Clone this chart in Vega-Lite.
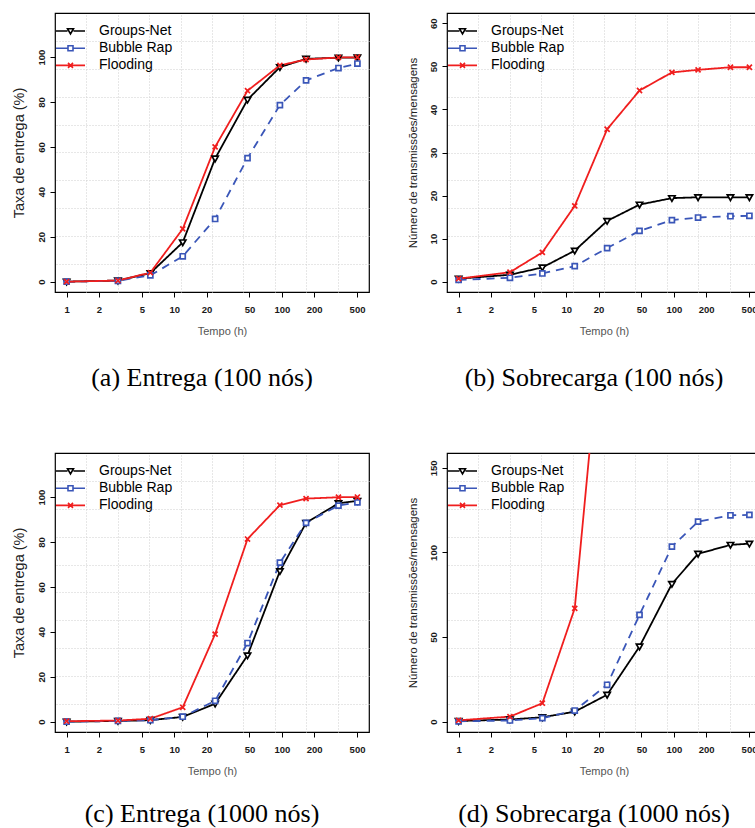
{
  "$schema": "https://vega.github.io/schema/vega-lite/v6.json",
  "padding": {"left": 10, "top": 12, "right": 0, "bottom": 0},
  "background": "white",
  "datasets": {
    "a": [
      {"t": 1, "s": "Groups-Net", "v": 0}, {"t": 3, "s": "Groups-Net", "v": 0.5}, {"t": 6, "s": "Groups-Net", "v": 3.8}, {"t": 12, "s": "Groups-Net", "v": 17.5}, {"t": 24, "s": "Groups-Net", "v": 54.8}, {"t": 48, "s": "Groups-Net", "v": 81}, {"t": 96, "s": "Groups-Net", "v": 95.5}, {"t": 168, "s": "Groups-Net", "v": 99.2}, {"t": 336, "s": "Groups-Net", "v": 99.7}, {"t": 504, "s": "Groups-Net", "v": 99.8},
      {"t": 1, "s": "Bubble Rap", "v": 0}, {"t": 3, "s": "Bubble Rap", "v": 0.4}, {"t": 6, "s": "Bubble Rap", "v": 2.8}, {"t": 12, "s": "Bubble Rap", "v": 11.3}, {"t": 24, "s": "Bubble Rap", "v": 27.9}, {"t": 48, "s": "Bubble Rap", "v": 55}, {"t": 96, "s": "Bubble Rap", "v": 78.6}, {"t": 168, "s": "Bubble Rap", "v": 89.6}, {"t": 336, "s": "Bubble Rap", "v": 95.1}, {"t": 504, "s": "Bubble Rap", "v": 97.1},
      {"t": 1, "s": "Flooding", "v": 0}, {"t": 3, "s": "Flooding", "v": 0.5}, {"t": 6, "s": "Flooding", "v": 4}, {"t": 12, "s": "Flooding", "v": 23.5}, {"t": 24, "s": "Flooding", "v": 60}, {"t": 48, "s": "Flooding", "v": 85}, {"t": 96, "s": "Flooding", "v": 96.3}, {"t": 168, "s": "Flooding", "v": 98.9}, {"t": 336, "s": "Flooding", "v": 99.8}, {"t": 504, "s": "Flooding", "v": 99.9}
    ],
    "b": [
      {"t": 1, "s": "Groups-Net", "v": 0.7}, {"t": 3, "s": "Groups-Net", "v": 1.6}, {"t": 6, "s": "Groups-Net", "v": 3.3}, {"t": 12, "s": "Groups-Net", "v": 7.2}, {"t": 24, "s": "Groups-Net", "v": 14.1}, {"t": 48, "s": "Groups-Net", "v": 17.9}, {"t": 96, "s": "Groups-Net", "v": 19.4}, {"t": 168, "s": "Groups-Net", "v": 19.6}, {"t": 336, "s": "Groups-Net", "v": 19.6}, {"t": 504, "s": "Groups-Net", "v": 19.6},
      {"t": 1, "s": "Bubble Rap", "v": 0.4}, {"t": 3, "s": "Bubble Rap", "v": 0.9}, {"t": 6, "s": "Bubble Rap", "v": 1.9}, {"t": 12, "s": "Bubble Rap", "v": 3.6}, {"t": 24, "s": "Bubble Rap", "v": 7.8}, {"t": 48, "s": "Bubble Rap", "v": 11.8}, {"t": 96, "s": "Bubble Rap", "v": 14.3}, {"t": 168, "s": "Bubble Rap", "v": 14.9}, {"t": 336, "s": "Bubble Rap", "v": 15.2}, {"t": 504, "s": "Bubble Rap", "v": 15.3},
      {"t": 1, "s": "Flooding", "v": 0.7}, {"t": 3, "s": "Flooding", "v": 2.2}, {"t": 6, "s": "Flooding", "v": 6.8}, {"t": 12, "s": "Flooding", "v": 17.6}, {"t": 24, "s": "Flooding", "v": 35.4}, {"t": 48, "s": "Flooding", "v": 44.4}, {"t": 96, "s": "Flooding", "v": 48.6}, {"t": 168, "s": "Flooding", "v": 49.2}, {"t": 336, "s": "Flooding", "v": 49.8}, {"t": 504, "s": "Flooding", "v": 49.8}
    ],
    "c": [
      {"t": 1, "s": "Groups-Net", "v": 0}, {"t": 3, "s": "Groups-Net", "v": 0.3}, {"t": 6, "s": "Groups-Net", "v": 0.7}, {"t": 12, "s": "Groups-Net", "v": 2.1}, {"t": 24, "s": "Groups-Net", "v": 8}, {"t": 48, "s": "Groups-Net", "v": 29.5}, {"t": 96, "s": "Groups-Net", "v": 67}, {"t": 168, "s": "Groups-Net", "v": 88.5}, {"t": 336, "s": "Groups-Net", "v": 97.2}, {"t": 504, "s": "Groups-Net", "v": 98.3},
      {"t": 1, "s": "Bubble Rap", "v": 0}, {"t": 3, "s": "Bubble Rap", "v": 0.3}, {"t": 6, "s": "Bubble Rap", "v": 0.7}, {"t": 12, "s": "Bubble Rap", "v": 2.2}, {"t": 24, "s": "Bubble Rap", "v": 9.3}, {"t": 48, "s": "Bubble Rap", "v": 35}, {"t": 96, "s": "Bubble Rap", "v": 70.8}, {"t": 168, "s": "Bubble Rap", "v": 88.5}, {"t": 336, "s": "Bubble Rap", "v": 96.2}, {"t": 504, "s": "Bubble Rap", "v": 97.6},
      {"t": 1, "s": "Flooding", "v": 0.2}, {"t": 3, "s": "Flooding", "v": 0.5}, {"t": 6, "s": "Flooding", "v": 1.3}, {"t": 12, "s": "Flooding", "v": 6.4}, {"t": 24, "s": "Flooding", "v": 39}, {"t": 48, "s": "Flooding", "v": 81.3}, {"t": 96, "s": "Flooding", "v": 96.4}, {"t": 168, "s": "Flooding", "v": 99.3}, {"t": 336, "s": "Flooding", "v": 99.9}, {"t": 504, "s": "Flooding", "v": 100}
    ],
    "d": [
      {"t": 1, "s": "Groups-Net", "v": 0.4}, {"t": 3, "s": "Groups-Net", "v": 1.3}, {"t": 6, "s": "Groups-Net", "v": 2.6}, {"t": 12, "s": "Groups-Net", "v": 5.9}, {"t": 24, "s": "Groups-Net", "v": 15.9}, {"t": 48, "s": "Groups-Net", "v": 44.4}, {"t": 96, "s": "Groups-Net", "v": 81.4}, {"t": 168, "s": "Groups-Net", "v": 99.2}, {"t": 336, "s": "Groups-Net", "v": 104.5}, {"t": 504, "s": "Groups-Net", "v": 105.2},
      {"t": 1, "s": "Bubble Rap", "v": 0.2}, {"t": 3, "s": "Bubble Rap", "v": 0.7}, {"t": 6, "s": "Bubble Rap", "v": 2.1}, {"t": 12, "s": "Bubble Rap", "v": 6.6}, {"t": 24, "s": "Bubble Rap", "v": 21.8}, {"t": 48, "s": "Bubble Rap", "v": 63.1}, {"t": 96, "s": "Bubble Rap", "v": 103.5}, {"t": 168, "s": "Bubble Rap", "v": 118.2}, {"t": 336, "s": "Bubble Rap", "v": 122}, {"t": 504, "s": "Bubble Rap", "v": 122.2},
      {"t": 1, "s": "Flooding", "v": 0.8}, {"t": 3, "s": "Flooding", "v": 3}, {"t": 6, "s": "Flooding", "v": 10.9}, {"t": 12, "s": "Flooding", "v": 67}, {"t": 24, "s": "Flooding", "v": 270}, {"t": 48, "s": "Flooding", "v": 420}, {"t": 96, "s": "Flooding", "v": 480}, {"t": 168, "s": "Flooding", "v": 495}, {"t": 336, "s": "Flooding", "v": 500}, {"t": 504, "s": "Flooding", "v": 502}
    ]
  },
  "columns": 2,
  "spacing": {"row": 161, "column": 78},
  "bounds": "flush",
  "resolve": {"scale": {"stroke": "independent", "strokeDash": "independent", "shape": "independent"}},
  "concat": [
    {
      "width": 314, "height": 279,
      "data": {"name": "a"},
      "title": {"text": "(a) Entrega (100 nós)", "orient": "bottom", "offset": 29, "dx": -10},
      "layer": [
        {
          "mark": {"type": "line", "clip": true, "strokeWidth": 1.8},
          "encoding": {
            "x": {"field": "t", "type": "quantitative", "scale": {"type": "log", "domain": [0.78, 646], "nice": false}, "axis": {"values": [1, 2, 5, 10, 20, 50, 100, 200, 500], "format": "d", "title": "Tempo (h)", "titleX": 167}},
            "y": {"field": "v", "type": "quantitative", "scale": {"domain": [-4.6, 119.6], "nice": false, "zero": false}, "axis": {"values": [0, 20, 40, 60, 80, 100], "title": "Taxa de entrega (%)", "titleFontSize": 14.5}},
            "stroke": {"field": "s", "type": "nominal", "scale": {"domain": ["Groups-Net", "Bubble Rap", "Flooding"], "range": ["#000000", "#3a56b8", "#f01e1e"]}, "legend": null},
            "strokeDash": {"field": "s", "type": "nominal", "scale": {"domain": ["Groups-Net", "Bubble Rap", "Flooding"], "range": [[1, 0], [8, 6], [1, 0]]}, "legend": null}
          }
        },
        {
          "mark": {"type": "point", "clip": true, "filled": true, "fill": "white", "strokeWidth": 1.7, "size": 40, "opacity": 1},
          "encoding": {
            "x": {"field": "t", "type": "quantitative", "axis": {"orient": "top", "values": [1.527, 2.991, 5.855, 11.465, 22.45, 43.96, 86.06, 168.5, 329.9], "labels": false, "ticks": false, "domain": false, "grid": true, "title": null}},
            "y": {"field": "v", "type": "quantitative", "axis": {"orient": "right", "values": [7.82, 20.24, 32.66, 45.08, 57.5, 69.92, 82.34, 94.76, 107.18], "labels": false, "ticks": false, "domain": false, "grid": true, "title": null}},
            "stroke": {"field": "s", "type": "nominal", "scale": {"domain": ["Groups-Net", "Bubble Rap", "Flooding"], "range": ["#000000", "#3a56b8", "#f01e1e"]}, "legend": null},
            "shape": {"field": "s", "type": "nominal", "scale": {"domain": ["Groups-Net", "Bubble Rap", "Flooding"], "range": ["M-1,-0.75H1L0,1Z", "M-0.8,-0.8H0.8V0.8H-0.8Z", "M-0.8,-0.8L0.8,0.8M-0.8,0.8L0.8,-0.8"]}, "legend": null}
          }
        },
        {
          "mark": {"type": "point", "clip": true, "filled": false, "opacity": 0},
          "encoding": {
            "x": {"field": "t", "type": "quantitative", "axis": null},
            "y": {"field": "v", "type": "quantitative", "axis": null},
            "stroke": {"field": "s", "type": "nominal", "scale": {"domain": ["Groups-Net", "Bubble Rap", "Flooding"], "range": ["#000000", "#3a56b8", "#f01e1e"]}},
            "shape": {"field": "s", "type": "nominal", "scale": {"domain": ["Groups-Net", "Bubble Rap", "Flooding"], "range": ["M-2.9,0H-0.6M0.6,0H2.9M-0.6,-0.45H0.6L0,0.6Z", "M-2.9,0H-0.5M0.5,0H2.9M-0.5,-0.5H0.5V0.5H-0.5Z", "M-2.9,0H2.9M-0.5,-0.5L0.5,0.5M-0.5,0.5L0.5,-0.5"]}}
          }
        }
      ],
      "resolve": {"axis": {"x": "independent", "y": "independent"}, "scale": {"stroke": "independent", "shape": "independent", "strokeDash": "independent"}}
    },
    {
      "width": 314, "height": 279,
      "data": {"name": "b"},
      "title": {"text": "(b) Sobrecarga (100 nós)", "orient": "bottom", "offset": 29, "dx": -10},
      "layer": [
        {
          "mark": {"type": "line", "clip": true, "strokeWidth": 1.8},
          "encoding": {
            "x": {"field": "t", "type": "quantitative", "scale": {"type": "log", "domain": [0.78, 646], "nice": false}, "axis": {"values": [1, 2, 5, 10, 20, 50, 100, 200, 500], "format": "d", "title": "Tempo (h)"}},
            "y": {"field": "v", "type": "quantitative", "scale": {"domain": [-2.4, 62.4], "nice": false, "zero": false}, "axis": {"values": [0, 10, 20, 30, 40, 50, 60], "title": "Número de transmissões/mensagens", "titleFontSize": 11.5}},
            "stroke": {"field": "s", "type": "nominal", "scale": {"domain": ["Groups-Net", "Bubble Rap", "Flooding"], "range": ["#000000", "#3a56b8", "#f01e1e"]}, "legend": null},
            "strokeDash": {"field": "s", "type": "nominal", "scale": {"domain": ["Groups-Net", "Bubble Rap", "Flooding"], "range": [[1, 0], [8, 6], [1, 0]]}, "legend": null}
          }
        },
        {
          "mark": {"type": "point", "clip": true, "filled": true, "fill": "white", "strokeWidth": 1.7, "size": 40, "opacity": 1},
          "encoding": {
            "x": {"field": "t", "type": "quantitative", "axis": {"orient": "top", "values": [1.527, 2.991, 5.855, 11.465, 22.45, 43.96, 86.06, 168.5, 329.9], "labels": false, "ticks": false, "domain": false, "grid": true, "title": null}},
            "y": {"field": "v", "type": "quantitative", "axis": {"orient": "right", "values": [4.08, 10.56, 17.04, 23.52, 30, 36.48, 42.96, 49.44, 55.92], "labels": false, "ticks": false, "domain": false, "grid": true, "title": null}},
            "stroke": {"field": "s", "type": "nominal", "scale": {"domain": ["Groups-Net", "Bubble Rap", "Flooding"], "range": ["#000000", "#3a56b8", "#f01e1e"]}, "legend": null},
            "shape": {"field": "s", "type": "nominal", "scale": {"domain": ["Groups-Net", "Bubble Rap", "Flooding"], "range": ["M-1,-0.75H1L0,1Z", "M-0.8,-0.8H0.8V0.8H-0.8Z", "M-0.8,-0.8L0.8,0.8M-0.8,0.8L0.8,-0.8"]}, "legend": null}
          }
        },
        {
          "mark": {"type": "point", "clip": true, "filled": false, "opacity": 0},
          "encoding": {
            "x": {"field": "t", "type": "quantitative", "axis": null},
            "y": {"field": "v", "type": "quantitative", "axis": null},
            "stroke": {"field": "s", "type": "nominal", "scale": {"domain": ["Groups-Net", "Bubble Rap", "Flooding"], "range": ["#000000", "#3a56b8", "#f01e1e"]}},
            "shape": {"field": "s", "type": "nominal", "scale": {"domain": ["Groups-Net", "Bubble Rap", "Flooding"], "range": ["M-2.9,0H-0.6M0.6,0H2.9M-0.6,-0.45H0.6L0,0.6Z", "M-2.9,0H-0.5M0.5,0H2.9M-0.5,-0.5H0.5V0.5H-0.5Z", "M-2.9,0H2.9M-0.5,-0.5L0.5,0.5M-0.5,0.5L0.5,-0.5"]}}
          }
        }
      ],
      "resolve": {"axis": {"x": "independent", "y": "independent"}, "scale": {"stroke": "independent", "shape": "independent", "strokeDash": "independent"}}
    },
    {
      "width": 314, "height": 279,
      "data": {"name": "c"},
      "title": {"text": "(c) Entrega (1000 nós)", "orient": "bottom", "offset": 25, "dx": -10},
      "layer": [
        {
          "mark": {"type": "line", "clip": true, "strokeWidth": 1.8},
          "encoding": {
            "x": {"field": "t", "type": "quantitative", "scale": {"type": "log", "domain": [0.78, 646], "nice": false}, "axis": {"values": [1, 2, 5, 10, 20, 50, 100, 200, 500], "format": "d", "title": "Tempo (h)"}},
            "y": {"field": "v", "type": "quantitative", "scale": {"domain": [-4.6, 119.6], "nice": false, "zero": false}, "axis": {"values": [0, 20, 40, 60, 80, 100], "title": "Taxa de entrega (%)", "titleFontSize": 14.5}},
            "stroke": {"field": "s", "type": "nominal", "scale": {"domain": ["Groups-Net", "Bubble Rap", "Flooding"], "range": ["#000000", "#3a56b8", "#f01e1e"]}, "legend": null},
            "strokeDash": {"field": "s", "type": "nominal", "scale": {"domain": ["Groups-Net", "Bubble Rap", "Flooding"], "range": [[1, 0], [8, 6], [1, 0]]}, "legend": null}
          }
        },
        {
          "mark": {"type": "point", "clip": true, "filled": true, "fill": "white", "strokeWidth": 1.7, "size": 40, "opacity": 1},
          "encoding": {
            "x": {"field": "t", "type": "quantitative", "axis": {"orient": "top", "values": [1.527, 2.991, 5.855, 11.465, 22.45, 43.96, 86.06, 168.5, 329.9], "labels": false, "ticks": false, "domain": false, "grid": true, "title": null}},
            "y": {"field": "v", "type": "quantitative", "axis": {"orient": "right", "values": [7.82, 20.24, 32.66, 45.08, 57.5, 69.92, 82.34, 94.76, 107.18], "labels": false, "ticks": false, "domain": false, "grid": true, "title": null}},
            "stroke": {"field": "s", "type": "nominal", "scale": {"domain": ["Groups-Net", "Bubble Rap", "Flooding"], "range": ["#000000", "#3a56b8", "#f01e1e"]}, "legend": null},
            "shape": {"field": "s", "type": "nominal", "scale": {"domain": ["Groups-Net", "Bubble Rap", "Flooding"], "range": ["M-1,-0.75H1L0,1Z", "M-0.8,-0.8H0.8V0.8H-0.8Z", "M-0.8,-0.8L0.8,0.8M-0.8,0.8L0.8,-0.8"]}, "legend": null}
          }
        },
        {
          "mark": {"type": "point", "clip": true, "filled": false, "opacity": 0},
          "encoding": {
            "x": {"field": "t", "type": "quantitative", "axis": null},
            "y": {"field": "v", "type": "quantitative", "axis": null},
            "stroke": {"field": "s", "type": "nominal", "scale": {"domain": ["Groups-Net", "Bubble Rap", "Flooding"], "range": ["#000000", "#3a56b8", "#f01e1e"]}},
            "shape": {"field": "s", "type": "nominal", "scale": {"domain": ["Groups-Net", "Bubble Rap", "Flooding"], "range": ["M-2.9,0H-0.6M0.6,0H2.9M-0.6,-0.45H0.6L0,0.6Z", "M-2.9,0H-0.5M0.5,0H2.9M-0.5,-0.5H0.5V0.5H-0.5Z", "M-2.9,0H2.9M-0.5,-0.5L0.5,0.5M-0.5,0.5L0.5,-0.5"]}}
          }
        }
      ],
      "resolve": {"axis": {"x": "independent", "y": "independent"}, "scale": {"stroke": "independent", "shape": "independent", "strokeDash": "independent"}}
    },
    {
      "width": 314, "height": 279,
      "data": {"name": "d"},
      "title": {"text": "(d) Sobrecarga (1000 nós)", "orient": "bottom", "offset": 25, "dx": -10},
      "layer": [
        {
          "mark": {"type": "line", "clip": true, "strokeWidth": 1.8},
          "encoding": {
            "x": {"field": "t", "type": "quantitative", "scale": {"type": "log", "domain": [0.78, 646], "nice": false}, "axis": {"values": [1, 2, 5, 10, 20, 50, 100, 200, 500], "format": "d", "title": "Tempo (h)"}},
            "y": {"field": "v", "type": "quantitative", "scale": {"domain": [-6.1, 158.8], "nice": false, "zero": false}, "axis": {"values": [0, 50, 100, 150], "title": "Número de transmissões/mensagens", "titleFontSize": 11.5}},
            "stroke": {"field": "s", "type": "nominal", "scale": {"domain": ["Groups-Net", "Bubble Rap", "Flooding"], "range": ["#000000", "#3a56b8", "#f01e1e"]}, "legend": null},
            "strokeDash": {"field": "s", "type": "nominal", "scale": {"domain": ["Groups-Net", "Bubble Rap", "Flooding"], "range": [[1, 0], [8, 6], [1, 0]]}, "legend": null}
          }
        },
        {
          "mark": {"type": "point", "clip": true, "filled": true, "fill": "white", "strokeWidth": 1.7, "size": 40, "opacity": 1},
          "encoding": {
            "x": {"field": "t", "type": "quantitative", "axis": {"orient": "top", "values": [1.527, 2.991, 5.855, 11.465, 22.45, 43.96, 86.06, 168.5, 329.9], "labels": false, "ticks": false, "domain": false, "grid": true, "title": null}},
            "y": {"field": "v", "type": "quantitative", "axis": {"orient": "right", "values": [10.39, 26.88, 43.37, 59.86, 76.35, 92.84, 109.33, 125.82, 142.31], "labels": false, "ticks": false, "domain": false, "grid": true, "title": null}},
            "stroke": {"field": "s", "type": "nominal", "scale": {"domain": ["Groups-Net", "Bubble Rap", "Flooding"], "range": ["#000000", "#3a56b8", "#f01e1e"]}, "legend": null},
            "shape": {"field": "s", "type": "nominal", "scale": {"domain": ["Groups-Net", "Bubble Rap", "Flooding"], "range": ["M-1,-0.75H1L0,1Z", "M-0.8,-0.8H0.8V0.8H-0.8Z", "M-0.8,-0.8L0.8,0.8M-0.8,0.8L0.8,-0.8"]}, "legend": null}
          }
        },
        {
          "mark": {"type": "point", "clip": true, "filled": false, "opacity": 0},
          "encoding": {
            "x": {"field": "t", "type": "quantitative", "axis": null},
            "y": {"field": "v", "type": "quantitative", "axis": null},
            "stroke": {"field": "s", "type": "nominal", "scale": {"domain": ["Groups-Net", "Bubble Rap", "Flooding"], "range": ["#000000", "#3a56b8", "#f01e1e"]}},
            "shape": {"field": "s", "type": "nominal", "scale": {"domain": ["Groups-Net", "Bubble Rap", "Flooding"], "range": ["M-2.9,0H-0.6M0.6,0H2.9M-0.6,-0.45H0.6L0,0.6Z", "M-2.9,0H-0.5M0.5,0H2.9M-0.5,-0.5H0.5V0.5H-0.5Z", "M-2.9,0H2.9M-0.5,-0.5L0.5,0.5M-0.5,0.5L0.5,-0.5"]}}
          }
        }
      ],
      "resolve": {"axis": {"x": "independent", "y": "independent"}, "scale": {"stroke": "independent", "shape": "independent", "strokeDash": "independent"}}
    }
  ],
  "config": {
    "font": "Liberation Sans",
    "view": {"stroke": "#000000", "strokeWidth": 1.2},
    "axis": {"domain": false, "grid": false, "tickSize": 5, "tickColor": "#000000", "tickWidth": 1, "labelFont": "Liberation Sans", "labelFontSize": 9.5, "labelFontWeight": "bold", "labelColor": "#1a1a1a", "titleFont": "Liberation Sans", "titleFontWeight": "normal", "gridColor": "#cfcfcf", "gridDash": [1, 2], "gridWidth": 1},
    "axisX": {"labelAngle": 0, "labelPadding": 7.5, "titlePadding": 11, "titleFontSize": 11, "titleColor": "#555555"},
    "axisY": {"labelAngle": -90, "labelAlign": "center", "labelBaseline": "bottom", "labelPadding": 4, "titlePadding": 10, "titleColor": "#222222"},
    "legend": {"orient": "none", "legendX": 1, "legendY": 11, "title": null, "labelFont": "Liberation Sans", "labelFontSize": 14, "labelColor": "#000000", "symbolSize": 100, "symbolStrokeWidth": 1.6, "symbolOpacity": 1, "symbolOffset": 7.5, "labelOffset": 21.5, "rowPadding": 3.2, "padding": 0},
    "title": {"font": "Liberation Serif", "fontSize": 26, "fontWeight": "normal", "color": "#000000", "frame": "group", "anchor": "middle"}
  }
}
